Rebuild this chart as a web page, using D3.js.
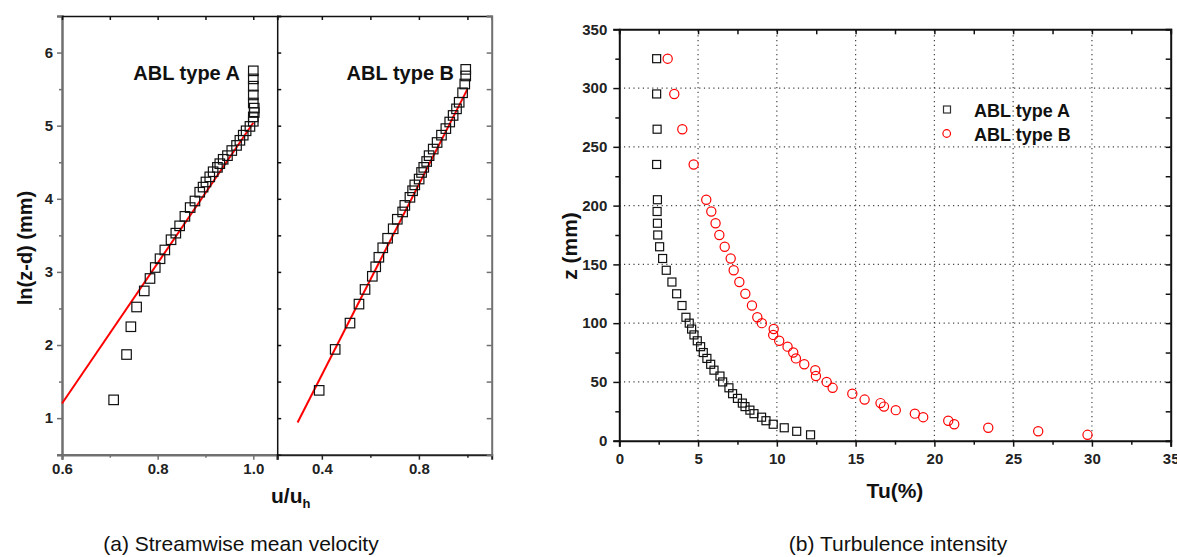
<!DOCTYPE html>
<html>
<head>
<meta charset="utf-8">
<script src="https://cdn.jsdelivr.net/npm/d3@7"></script>
<style>
  body { margin: 0; background: #fff; }
  svg { font-family: "Liberation Sans", Arial, sans-serif; }
  .tick text { font-weight: bold; font-size: 15px; fill: #222; }
</style>
</head>
<body>
<script>
// panel (a) - ABL type A, u/uh vs ln(z-d)
const uA = [0.708, 0.735, 0.744, 0.756, 0.772, 0.784, 0.795, 0.805, 0.815, 0.828, 0.838, 0.846, 0.857, 0.868, 0.878, 0.888, 0.895, 0.901, 0.909, 0.916, 0.925, 0.930, 0.937, 0.946, 0.955, 0.965, 0.972, 0.979, 0.985, 0.993, 1.0, 1.0, 1.002, 1.002, 1.0, 1.0, 1.0, 1.0, 1.0];
const lnA = [1.25, 1.87, 2.25, 2.52, 2.74, 2.91, 3.06, 3.18, 3.30, 3.44, 3.53, 3.63, 3.76, 3.88, 3.97, 4.09, 4.16, 4.23, 4.30, 4.37, 4.43, 4.48, 4.54, 4.59, 4.66, 4.73, 4.80, 4.87, 4.93, 4.99, 5.06, 5.12, 5.18, 5.24, 5.31, 5.42, 5.54, 5.64, 5.75];
const fitA_u = [0.6, 1.0];
const fitA_ln = [1.2, 5.04];

// panel (a) - ABL type B
const uB = [0.389, 0.455, 0.516, 0.553, 0.578, 0.608, 0.622, 0.635, 0.651, 0.671, 0.694, 0.711, 0.733, 0.742, 0.763, 0.774, 0.783, 0.801, 0.811, 0.820, 0.832, 0.842, 0.859, 0.875, 0.893, 0.911, 0.927, 0.941, 0.955, 0.966, 0.980, 0.989, 0.993, 0.993];
const lnB = [1.38, 1.94, 2.30, 2.56, 2.76, 2.94, 3.07, 3.20, 3.33, 3.46, 3.59, 3.72, 3.82, 3.91, 4.02, 4.11, 4.19, 4.27, 4.36, 4.43, 4.51, 4.59, 4.68, 4.77, 4.87, 4.96, 5.05, 5.14, 5.23, 5.32, 5.45, 5.57, 5.68, 5.77];
const fitB_u = [0.30, 1.0];
const fitB_ln = [0.94, 5.5];

// panel (b) - turbulence intensity
const tuA = [2.37, 2.37, 2.40, 2.37, 2.42, 2.40, 2.42, 2.44, 2.56, 2.75, 2.98, 3.34, 3.64, 3.98, 4.23, 4.44, 4.59, 4.74, 4.95, 5.16, 5.33, 5.56, 5.80, 6.01, 6.39, 6.56, 6.96, 7.19, 7.50, 7.81, 7.98, 8.29, 8.55, 9.03, 9.31, 9.77, 10.47, 11.26, 12.14];
const zA = [325, 295, 265, 235, 205, 195, 185, 175, 165, 155, 145, 135, 125, 115, 105, 100, 95, 90, 85, 80, 75, 70, 65, 60, 55, 50, 45, 40, 36, 32, 29, 26, 23, 20, 17, 14, 11, 8, 5];
const tuB = [3.07, 3.49, 4.00, 4.72, 5.52, 5.84, 6.11, 6.35, 6.69, 7.07, 7.26, 7.62, 8.00, 8.42, 8.76, 9.05, 9.80, 9.77, 10.15, 10.68, 11.04, 11.21, 11.74, 12.44, 12.48, 13.16, 13.54, 14.79, 15.57, 16.58, 16.80, 17.55, 18.76, 19.29, 20.88, 21.26, 23.42, 26.59, 29.72];
const zB = [325, 295, 265, 235, 205, 195, 185, 175, 165, 155, 145, 135, 125, 115, 105, 100, 95, 90, 85, 80, 75, 70, 65, 60, 55, 50, 45, 40, 35, 32, 29, 26, 23, 20, 17, 14, 11, 8, 5];

const svg = d3.select('body').append('svg')
  .attr('width', 1177)
  .attr('height', 557);

// ---------- left chart ----------
const yL = d3.scaleLinear().domain([0.5, 6.5]).range([454.7, 16]);
const xA = d3.scaleLinear().domain([0.6, 1.05]).range([62, 277.2]);
const xB = d3.scaleLinear().domain([0.216, 1.1]).range([277.2, 491.7]);
const axisGrey = '#707070';

function styleAxis(g, color, width) {
  g.select('.domain').attr('stroke', color).attr('stroke-width', width);
  g.selectAll('.tick line').attr('stroke', color).attr('stroke-width', 1.5);
}

// panel A axes
const yMajor = d3.range(1, 7);
const yMinor = d3.range(0.5, 6.6, 1);
svg.append('g').attr('transform', 'translate(62,0)')
  .call(d3.axisLeft(yL).tickValues(yMajor).tickSize(5).tickPadding(4).tickFormat(d3.format('d')))
  .call(g => styleAxis(g, axisGrey, 2.5));
svg.append('g').attr('transform', 'translate(62,0)')
  .call(d3.axisLeft(yL).tickValues(yMinor).tickSize(3).tickFormat(''))
  .call(g => { g.select('.domain').remove(); styleAxis(g, axisGrey, 2); });

svg.append('g').attr('transform', 'translate(0,454.7)')
  .call(d3.axisBottom(xA).tickValues([0.6, 0.8, 1.0]).tickSize(5).tickPadding(4).tickFormat(d3.format('.1f')))
  .call(g => styleAxis(g, axisGrey, 2.5));
svg.append('g').attr('transform', 'translate(0,454.7)')
  .call(d3.axisBottom(xA).tickValues([0.7, 0.9]).tickSize(3).tickFormat(''))
  .call(g => { g.select('.domain').remove(); styleAxis(g, axisGrey, 2); });

// panel A top
svg.append('g').attr('transform', 'translate(0,16)')
  .call(d3.axisTop(xA).tickValues([0.7, 0.8, 0.9, 1.0]).tickSize(-4).tickFormat(''))
  .call(g => styleAxis(g, '#111', 1.5));

// panel B
svg.append('g').attr('transform', 'translate(0,454.7)')
  .call(d3.axisBottom(xB).tickValues([0.4, 0.8]).tickSize(5).tickPadding(4).tickFormat(d3.format('.1f')))
  .call(g => styleAxis(g, '#222', 2));
svg.append('g').attr('transform', 'translate(0,454.7)')
  .call(d3.axisBottom(xB).tickValues([0.6, 1.0]).tickSize(3).tickFormat(''))
  .call(g => { g.select('.domain').remove(); styleAxis(g, '#222', 2); });
svg.append('g').attr('transform', 'translate(0,16)')
  .call(d3.axisTop(xB).tickValues([0.4, 0.6, 0.8, 1.0]).tickSize(-4).tickFormat(''))
  .call(g => styleAxis(g, '#111', 1.5));

// divider (right of A / left of B)
svg.append('g').attr('transform', 'translate(277.2,0)')
  .call(d3.axisRight(yL).tickValues(d3.range(1, 6.6, 0.5)).tickSize(4).tickFormat(''))
  .call(g => styleAxis(g, '#111', 1.5));
// panel B right side
svg.append('g').attr('transform', 'translate(491.7,0)')
  .call(d3.axisRight(yL).tickValues(d3.range(1, 6.6, 0.5)).tickSize(-5).tickFormat(''))
  .call(g => styleAxis(g, axisGrey, 2));

// fit lines
const lineA = d3.line().x(d => xA(d[0])).y(d => yL(d[1]));
const lineB = d3.line().x(d => xB(d[0])).y(d => yL(d[1]));
svg.append('path')
  .datum(d3.zip(fitA_u, fitA_ln))
  .attr('fill', 'none').attr('stroke', '#ff0000').attr('stroke-width', 2).attr('d', lineA);
svg.append('path')
  .datum(d3.zip(fitB_u, fitB_ln))
  .attr('fill', 'none').attr('stroke', '#ff0000').attr('stroke-width', 2).attr('d', lineB);

// squares panel A and B
const sqL = 9.5;
svg.append('g').selectAll('rect')
  .data(d3.zip(uA, lnA))
  .join('rect')
  .attr('x', d => xA(d[0]) - sqL / 2).attr('y', d => yL(d[1]) - sqL / 2)
  .attr('width', sqL).attr('height', sqL)
  .attr('fill', 'none').attr('stroke', '#111').attr('stroke-width', 1.2);
svg.append('g').selectAll('rect')
  .data(d3.zip(uB, lnB))
  .join('rect')
  .attr('x', d => xB(d[0]) - sqL / 2).attr('y', d => yL(d[1]) - sqL / 2)
  .attr('width', sqL).attr('height', sqL)
  .attr('fill', 'none').attr('stroke', '#111').attr('stroke-width', 1.2);

svg.append('text').attr('x', 240).attr('y', 80).attr('text-anchor', 'end')
  .attr('font-weight', 'bold').attr('font-size', 20).attr('fill', '#111').text('ABL type A');
svg.append('text').attr('x', 454).attr('y', 80).attr('text-anchor', 'end')
  .attr('font-weight', 'bold').attr('font-size', 20).attr('fill', '#111').text('ABL type B');

svg.append('text')
  .attr('transform', 'translate(32,248) rotate(-90)')
  .attr('text-anchor', 'middle').attr('font-weight', 'bold').attr('font-size', 20).attr('fill', '#111')
  .text('ln(z-d) (mm)');

const ulab = svg.append('text').attr('x', 271).attr('y', 503)
  .attr('font-weight', 'bold').attr('font-size', 21).attr('fill', '#111');
ulab.append('tspan').text('u/u');
ulab.append('tspan').attr('font-size', 13).attr('dy', 5).text('h');

svg.append('text').attr('x', 241).attr('y', 551).attr('text-anchor', 'middle')
  .attr('font-size', 21).attr('fill', '#111').text('(a) Streamwise mean velocity');

// ---------- right chart ----------
const xR = d3.scaleLinear().domain([0, 35]).range([619.3, 1170.7]);
const yR = d3.scaleLinear().domain([0, 350]).range([440.7, 29.3]);

// grid
const grid = svg.append('g').attr('stroke', '#444').attr('stroke-width', 1.2).attr('stroke-dasharray', '1.2,3.5');
grid.selectAll('line.v').data(d3.range(5, 31, 5)).join('line').attr('class', 'v')
  .attr('x1', d => xR(d)).attr('x2', d => xR(d)).attr('y1', yR(0)).attr('y2', yR(350));
grid.selectAll('line.h').data(d3.range(50, 301, 50)).join('line').attr('class', 'h')
  .attr('y1', d => yR(d)).attr('y2', d => yR(d)).attr('x1', xR(0)).attr('x2', xR(35));

svg.append('g').attr('transform', 'translate(0,440.7)')
  .call(d3.axisBottom(xR).tickValues(d3.range(0, 36, 5)).tickSize(6).tickPadding(7).tickFormat(d3.format('d')))
  .call(g => styleAxis(g, '#111', 2));
svg.append('g').attr('transform', 'translate(0,440.7)')
  .call(d3.axisBottom(xR).tickValues(d3.range(2.5, 35, 5)).tickSize(4).tickFormat(''))
  .call(g => { g.select('.domain').remove(); styleAxis(g, '#111', 2); });
svg.append('g').attr('transform', 'translate(619.3,0)')
  .call(d3.axisLeft(yR).tickValues(d3.range(0, 351, 50)).tickSize(6).tickPadding(6).tickFormat(d3.format('d')))
  .call(g => styleAxis(g, '#111', 2));
svg.append('g').attr('transform', 'translate(619.3,0)')
  .call(d3.axisLeft(yR).tickValues(d3.range(25, 350, 50)).tickSize(4).tickFormat(''))
  .call(g => { g.select('.domain').remove(); styleAxis(g, '#111', 2); });
svg.append('g').attr('transform', 'translate(0,29.3)')
  .call(d3.axisTop(xR).tickValues(d3.range(2.5, 35, 2.5)).tickSize(-5).tickFormat(''))
  .call(g => styleAxis(g, '#111', 2));
svg.append('g').attr('transform', 'translate(1170.7,0)')
  .call(d3.axisRight(yR).tickValues(d3.range(25, 350, 25)).tickSize(-5).tickFormat(''))
  .call(g => styleAxis(g, '#111', 2));

// markers
const sqR = 8;
svg.append('g').selectAll('rect')
  .data(d3.zip(tuA, zA))
  .join('rect')
  .attr('x', d => xR(d[0]) - sqR / 2).attr('y', d => yR(d[1]) - sqR / 2)
  .attr('width', sqR).attr('height', sqR)
  .attr('fill', 'none').attr('stroke', '#111').attr('stroke-width', 1.2);
svg.append('g').selectAll('circle')
  .data(d3.zip(tuB, zB))
  .join('circle')
  .attr('cx', d => xR(d[0])).attr('cy', d => yR(d[1])).attr('r', 4.6)
  .attr('fill', 'none').attr('stroke', '#ff0000').attr('stroke-width', 1.2);

// legend
svg.append('rect').attr('x', 943.5).attr('y', 106).attr('width', 7).attr('height', 7)
  .attr('fill', 'none').attr('stroke', '#333').attr('stroke-width', 1.2);
svg.append('circle').attr('cx', 946.7).attr('cy', 133.5).attr('r', 3.8)
  .attr('fill', 'none').attr('stroke', '#ff0000').attr('stroke-width', 1.2);
svg.append('text').attr('x', 974).attr('y', 116.5).attr('font-weight', 'bold').attr('font-size', 18)
  .attr('fill', '#111').text('ABL type A');
svg.append('text').attr('x', 974).attr('y', 140.5).attr('font-weight', 'bold').attr('font-size', 18)
  .attr('fill', '#111').text('ABL type B');

svg.append('text')
  .attr('transform', 'translate(577,246) rotate(-90)')
  .attr('text-anchor', 'middle').attr('font-weight', 'bold').attr('font-size', 21).attr('fill', '#111')
  .text('z (mm)');
svg.append('text').attr('x', 895).attr('y', 498).attr('text-anchor', 'middle')
  .attr('font-weight', 'bold').attr('font-size', 21).attr('fill', '#111').text('Tu(%)');

svg.append('text').attr('x', 898).attr('y', 551).attr('text-anchor', 'middle')
  .attr('font-size', 21).attr('fill', '#111').text('(b) Turbulence intensity');
</script>
</body>
</html>
